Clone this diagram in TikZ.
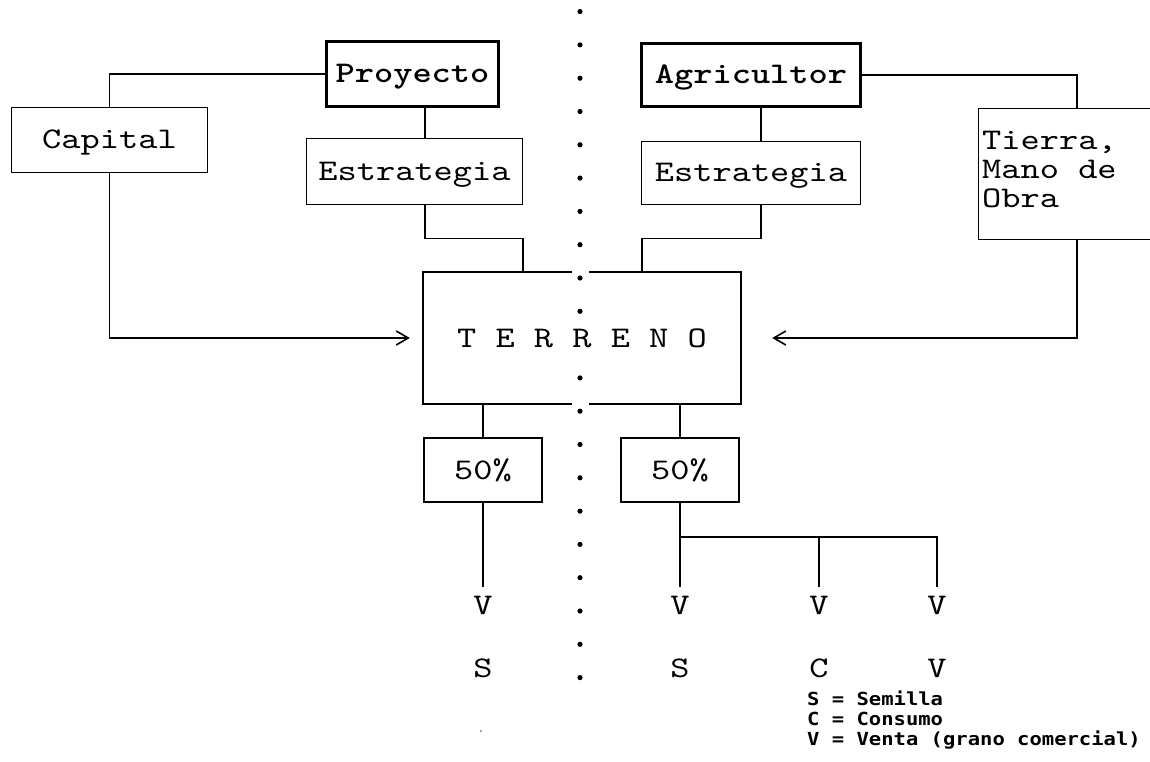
\documentclass[tikz,border=0pt]{standalone}
\usepackage{fontspec}
\newfontfamily\courier{lmmono10-regular.otf}[BoldFont=lmmonolt10-bold.otf, FakeStretch=1.22]
\newfontfamily\legfont[FakeStretch=1.14]{DejaVu Sans Mono}
\usepackage{tikz}
\usetikzlibrary{arrows.meta}

\newcommand{\letra}{\courier\fontsize{30}{29}\selectfont}

\begin{document}
\begin{tikzpicture}[x=1pt,y=-1pt,
  caja/.style={draw, line width=1.6pt, font=\letra, inner sep=0pt, text height=18pt, text depth=0pt},
  jefe/.style={caja, line width=3.4pt, font=\letra\bfseries},
  marca/.style={font=\letra, inner xsep=0pt, inner ysep=9pt, text height=18pt, text depth=0pt},
  linea/.style={line width=1.4pt},
  flecha/.style={linea, -{Straight Barb[length=12pt,width=14pt,line width=1.6pt]}},
  leyenda/.style={font=\legfont\bfseries\fontsize{18}{21}\selectfont, anchor=base west, inner sep=0pt}]
        %MARCO
        \path[use as bounding box] (0,0) rectangle (1150,762);
        \clip (0,0) rectangle (1150,762);

        %CAJAS ARRIBA
        \node[jefe, minimum width=172pt, minimum height=65pt] (proy) at (412.5,74) {Proyecto};
        \node[jefe, minimum width=219pt, minimum height=63pt] (agr) at (751,75) {Agricultor};
        \node[caja, minimum width=196pt, minimum height=65pt] (capital) at (109.5,140) {Capital};
        \node[caja, minimum width=216pt, minimum height=66pt] (estL) at (414.5,171.5) {Estrategia};
        \node[caja, minimum width=219pt, minimum height=63pt] (estR) at (751,173) {Estrategia};
        %TIERRA (se sale por la derecha)
        \node[draw, line width=1.6pt, minimum width=197pt, minimum height=131pt] (tierra) at (1077,174) {};
        \node[font=\letra, align=left, anchor=north west, inner sep=0pt] (tierratxt) at (982,131) {Tierra,\\Mano de\\Obra};

        %TERRENO
        \node[font=\letra, minimum width=318pt, minimum height=132pt, text height=18pt, text depth=0pt] (terreno) at (582,338) {T E R R E N O};
        \draw[line width=1.8pt] ([xshift=-10pt]terreno.north) -- (terreno.north west) -- (terreno.south west) -- ([xshift=-10pt]terreno.south);
        \draw[line width=1.8pt] ([xshift=7pt]terreno.north) -- (terreno.north east) -- (terreno.south east) -- ([xshift=7pt]terreno.south);

        %50%
        \node[caja, minimum width=118pt, minimum height=64pt] (pctL) at (483,470) {50\%};
        \node[caja, minimum width=118pt, minimum height=64pt] (pctR) at (680,470) {50\%};

        %V Y LETRAS
        \node[marca] (vL) at (483,605) {V};
        \node[marca] (vR1) at (680,605) {V};
        \node[marca] (vR2) at (819,605) {V};
        \node[marca] (vR3) at (937,605) {V};
        \node[marca] (sL) at (483,668) {S};
        \node[marca] (sR) at (680,668) {S};
        \node[marca] (cR) at (819,668) {C};
        \node[marca] (vtaR) at (937,668) {V};

        %LEYENDA
        \node[leyenda] (ley1) at (807,705) {S = Semilla};
        \node[leyenda] (ley2) at (807,725) {C = Consumo};
        \node[leyenda] (ley3) at (807,745) {V = Venta (grano comercial)};

        %LINEAS
        \draw[linea] (proy.west) -| (capital.north);
        \draw[linea] (agr.east) -| (tierra.north);
        \draw[linea] ([xshift=12.5pt]proy.south) -- ([xshift=12.5pt]proy.south |- estL.north);
        \draw[linea] ([xshift=10pt]agr.south) -- ([xshift=10pt]agr.south |- estR.north);
        \draw[linea] ([xshift=10.5pt]estL.south) -- ++(0,33) -| ([xshift=-59pt]terreno.north);
        \draw[linea] ([xshift=10pt]estR.south) -- ++(0,33) -| ([xshift=60pt]terreno.north);
        \draw[flecha, shorten >=13pt] (capital.south) |- (terreno.west);
        \draw[flecha, shorten >=31pt] (tierra.south) |- (terreno.east);
        \draw[linea] (terreno.south -| pctL.north) -- (pctL.north);
        \draw[linea] (terreno.south -| pctR.north) -- (pctR.north);
        \draw[linea] (pctL.south) -- (vL.north);
        \draw[linea] (pctR.south) -- (vR1.north);
        \coordinate (rama) at (680,537);
        \draw[linea] (rama) -| (vR3.north);
        \draw[linea] (vR2.north |- rama) -- (vR2.north);

        %PUNTOS
        \foreach \k in {-8,-7,...,1,3,4,...,12}
            \fill (580,{278+33.3*\k}) circle[radius=2.6pt];
        \fill[gray] (481,731) circle[radius=1.2pt];
\end{tikzpicture}
\end{document}
